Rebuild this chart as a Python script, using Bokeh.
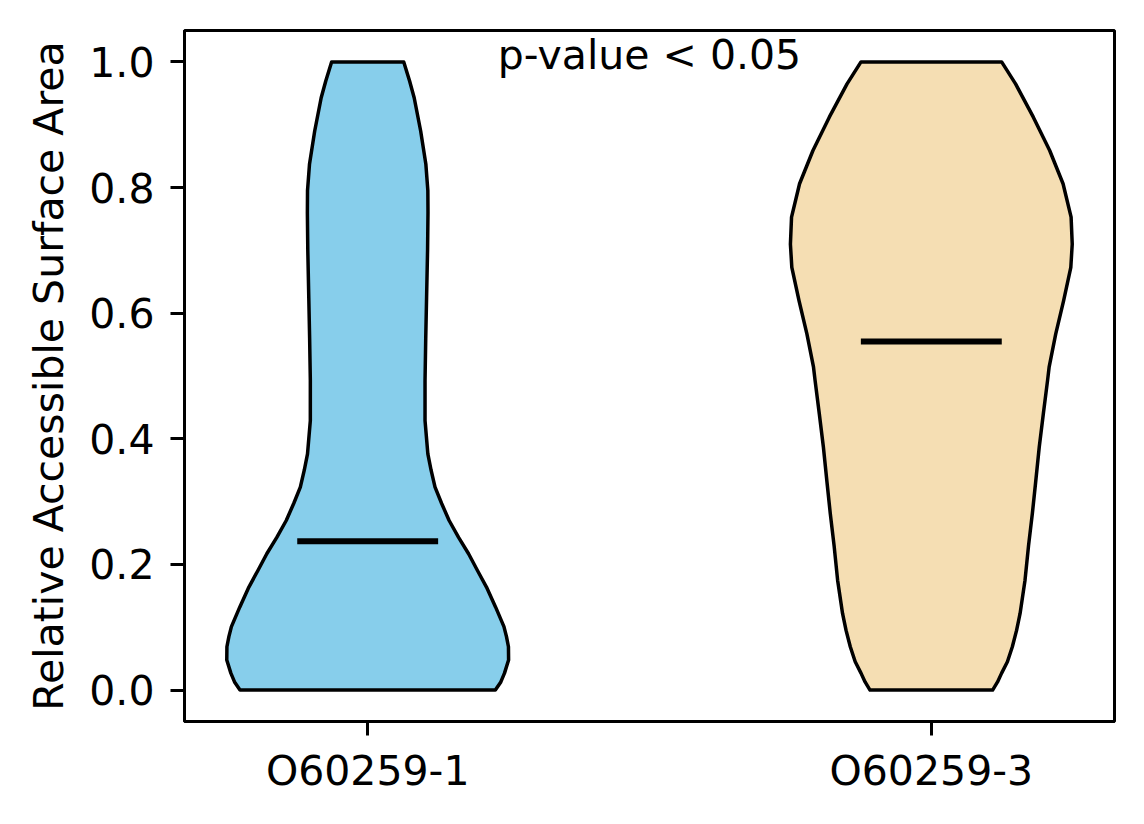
import numpy as np
from bokeh.plotting import figure
from bokeh.models import FixedTicker, Range1d, NumeralTickFormatter
from bokeh.core.properties import value
from bokeh.embed import file_html
from bokeh.resources import INLINE

# ---- data ----
categories = ["O60259-1", "O60259-3"]
positions = [1, 2]
colors = ["#87CEEB", "#F5DEB3"]
medians = [0.237, 0.555]

# violin 1 density profile: value levels and relative half-width (1 = widest)
levels_1 = [0.000, 0.013, 0.027, 0.048, 0.069, 0.085, 0.101, 0.132, 0.164, 0.190,
            0.217, 0.243, 0.270, 0.297, 0.323, 0.350, 0.376, 0.429, 0.493, 0.560,
            0.625, 0.700, 0.760, 0.795, 0.837, 0.890, 0.943, 0.970, 1.000]
widths_1 = [0.906, 0.945, 0.971, 1.000, 0.999, 0.985, 0.967, 0.908, 0.843, 0.780,
            0.716, 0.645, 0.578, 0.525, 0.478, 0.450, 0.427, 0.407, 0.407, 0.412,
            0.418, 0.425, 0.428, 0.427, 0.413, 0.376, 0.330, 0.297, 0.256]

# violin 2 density profile
levels_2 = [0.000, 0.013, 0.027, 0.045, 0.069, 0.095, 0.122, 0.175, 0.230, 0.281,
            0.330, 0.387, 0.440, 0.493, 0.514, 0.567, 0.620, 0.673, 0.710, 0.753,
            0.806, 0.859, 0.912, 0.965, 1.000]
widths_2 = [0.435, 0.470, 0.499, 0.540, 0.575, 0.605, 0.630, 0.665, 0.690, 0.717,
            0.740, 0.766, 0.795, 0.825, 0.836, 0.883, 0.939, 0.990, 1.000, 0.992,
            0.935, 0.840, 0.724, 0.598, 0.499]

y_ticks = [0.0, 0.2, 0.4, 0.6, 0.8, 1.0]
annotation = "p-value < 0.05"
y_label = "Relative Accessible Surface Area"

FONT = "DejaVu Sans"
FS = "41px"
HALF = 0.25  # violin half-width in x units (width 0.5)

p = figure(width=1136, height=816, output_backend="svg", toolbar_location=None,
           x_range=Range1d(0.675, 2.325), y_range=Range1d(-0.05, 1.05),
           min_border_left=184, min_border_right=22, min_border_top=30,
           min_border_bottom=95, frame_width=930, frame_height=691)

for pos, col, lev, wid, med in zip(positions, colors, [levels_1, levels_2],
                                   [widths_1, widths_2], medians):
    lev = np.array(lev)
    wid = np.array(wid)
    xs = np.concatenate([pos + HALF * wid, (pos - HALF * wid)[::-1]])
    ys = np.concatenate([lev, lev[::-1]])
    p.patch(xs, ys, fill_color=col, line_color="black", line_width=3.5,
            line_join="round")
    p.segment(x0=[pos - HALF / 2], x1=[pos + HALF / 2], y0=[med], y1=[med],
              line_color="black", line_width=6)

p.text(x=[1.5], y=[1.011], text=[annotation], text_font=value(FONT),
       text_font_size=FS, text_align="center", text_baseline="alphabetic",
       text_color="black")

p.xgrid.visible = False
p.ygrid.visible = False
p.outline_line_color = "black"
p.outline_line_width = 3
p.background_fill_color = "white"
p.border_fill_color = "white"

p.xaxis.ticker = FixedTicker(ticks=positions)
p.xaxis.major_label_overrides = {pos: c for pos, c in zip(positions, categories)}
p.yaxis.ticker = FixedTicker(ticks=y_ticks)
p.yaxis.formatter = NumeralTickFormatter(format="0.0")
p.yaxis.axis_label = y_label

for ax in [p.xaxis, p.yaxis]:
    ax.axis_line_color = "black"
    ax.axis_line_width = 3
    ax.major_tick_line_color = "black"
    ax.major_tick_line_width = 3
    ax.major_tick_out = 14
    ax.major_tick_in = 0
    ax.minor_tick_line_color = None
    ax.major_label_text_font = FONT
    ax.major_label_text_font_size = FS
    ax.major_label_text_color = "black"
    ax.axis_label_text_font = FONT
    ax.axis_label_text_font_size = FS
    ax.axis_label_text_font_style = "normal"
    ax.axis_label_text_color = "black"

p.xaxis.major_label_standoff = 11
p.yaxis.major_label_standoff = 16
p.yaxis.axis_label_standoff = 13

open("out.html", "w").write(file_html(p, INLINE))
